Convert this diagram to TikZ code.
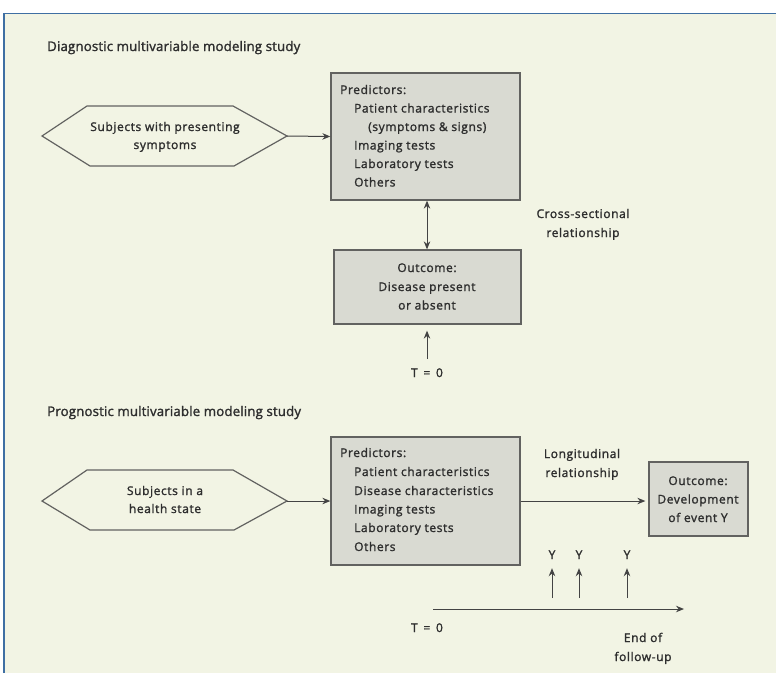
\documentclass[tikz,border=0pt]{standalone}
\usepackage{fontspec}
\setmainfont{Open Sans}
\newfontfamily\bodyfont{Open Sans}[LetterSpace=5, FakeBold=1.6]
\newfontfamily\titlefont{Open Sans}[LetterSpace=1, FakeBold=1.6]
\usetikzlibrary{arrows.meta}
\definecolor{cream}{HTML}{F2F4E4}
\definecolor{boxfill}{HTML}{D9DAD2}
\definecolor{boxline}{HTML}{626260}
\definecolor{frameblue}{HTML}{3F6FA3}
\definecolor{ink}{HTML}{2E2E2E}
\tikzset{
  txt/.style={inner sep=0pt, anchor=base, text=ink, font=\bodyfont\fontsize{12}{14}\selectfont},
  txtl/.style={txt, anchor=base west},
  title/.style={inner sep=0pt, anchor=base west, text=ink, font=\titlefont\fontsize{13.3}{16}\selectfont},
  graybox/.style={draw=boxline, fill=boxfill, line width=1.3pt, inner sep=0pt},
  hexa/.style={draw=boxline, fill=cream, line width=1.2pt, line join=miter},
  tip/.style={Stealth[length=8pt,width=6.5pt]},
  arr/.style={draw=ink!90, line width=1pt, -{Stealth[length=8pt,width=6.5pt]}},
  darr/.style={draw=ink!90, line width=1pt, {Stealth[length=8pt,width=6.5pt]}-{Stealth[length=8pt,width=6.5pt]}},
}
\begin{document}
\begin{tikzpicture}[x=1pt,y=-1pt]
\useasboundingbox (0,0) rectangle (776,673);
% background and frame
\fill[white] (0,0) rectangle (776,673);
\fill[cream] (4,14) rectangle (776,673);
\draw[frameblue, line width=1.6pt] (4,673) -- (4,13.5) -- (776,13.5);

% ---------- Diagnostic ----------
\node[title] (t1) at (47,51) {Diagnostic multivariable modeling study};

\draw[hexa] (42,136) -- (87,106) -- (233,106) -- (287,136) -- (234,166) -- (90,166) -- cycle;
\coordinate (h1r) at (287,136);
\node[txt] (h1a) at (165,131) {Subjects with presenting};
\node[txt] (h1b) at (165,149) {symptoms};

\node[graybox, minimum width=189pt, minimum height=127pt] (p1) at (425.5,136.5) {};
\node[txtl] (p1a) at (340,94) {Predictors:};
\node[txtl] (p1b) at (354,112.5) {Patient characteristics};
\node[txtl] (p1c) at (368,131) {(symptoms \& signs)};
\node[txtl] (p1d) at (354,149.5) {Imaging tests};
\node[txtl] (p1e) at (354,168) {Laboratory tests};
\node[txtl] (p1f) at (354,186.5) {Others};

\draw[arr] (h1r) -- (p1.west);

\node[graybox, minimum width=187pt, minimum height=74pt] (o1) at (427.5,287) {};
\node[txt] (o1a) at (427,272) {Outcome:};
\node[txt] (o1b) at (427,291) {Disease present};
\node[txt] (o1c) at (427,309.5) {or absent};

\draw[darr] (p1.south -| 427,0) -- (o1.north -| 427,0);

\node[txt] (cs1) at (583,218) {Cross-sectional};
\node[txt] (cs2) at (583,237) {relationship};

\node[txt] (tz1) at (427,377) {T \,=\, 0};
\coordinate (tz1a) at (427,359);
\draw[arr, shorten >=6pt] (tz1a) -- (o1.south -| tz1a);

% ---------- Prognostic ----------
\node[title] (t2) at (47,416) {Prognostic multivariable modeling study};

\draw[hexa] (42,501) -- (87,470) -- (233,470) -- (287,501) -- (234,530) -- (90,530) -- cycle;
\coordinate (h2r) at (287,501);
\node[txt] (h2a) at (165,495) {Subjects in a};
\node[txt] (h2b) at (165,513) {health state};

\node[graybox, minimum width=189pt, minimum height=128pt] (p2) at (425.5,501) {};
\node[txtl] (p2a) at (340,457) {Predictors:};
\node[txtl] (p2b) at (354,476) {Patient characteristics};
\node[txtl] (p2c) at (354,495) {Disease characteristics};
\node[txtl] (p2d) at (354,513.5) {Imaging tests};
\node[txtl] (p2e) at (354,532) {Laboratory tests};
\node[txtl] (p2f) at (354,551) {Others};

\draw[arr] (h2r) -- (p2.west);

\node[graybox, minimum width=99pt, minimum height=74pt] (o2) at (698.5,499) {};
\node[txt] (o2a) at (698,485) {Outcome:};
\node[txt] (o2b) at (698,503.5) {Development};
\node[txt] (o2c) at (698,522) {of event Y};

\node[txt] (lg1) at (582,458) {Longitudinal};
\node[txt] (lg2) at (582,477) {relationship};

\draw[arr, shorten >=3pt] (p2.east) -- (p2.east -| o2.west);

\node[txt] (y1) at (552,559) {Y};
\node[txt] (y2) at (579,559) {Y};
\node[txt] (y3) at (627,559) {Y};
\coordinate (y1a) at (552,598);
\coordinate (y2a) at (579,598);
\coordinate (y3a) at (627,598);
\draw[arr, shorten >=9pt] (y1a) -- (y1.south);
\draw[arr, shorten >=9pt] (y2a) -- (y2.south);
\draw[arr, shorten >=9pt] (y3a) -- (y3.south);

\coordinate (tl0) at (433,609);
\coordinate (tl1) at (684,609);
\draw[arr] (tl0) -- (tl1);

\node[txt] (tz2) at (427,632) {T \,=\, 0};
\node[txt] (ef1) at (643,642) {End of};
\node[txt] (ef2) at (643,661) {follow-up};
\end{tikzpicture}
\end{document}
